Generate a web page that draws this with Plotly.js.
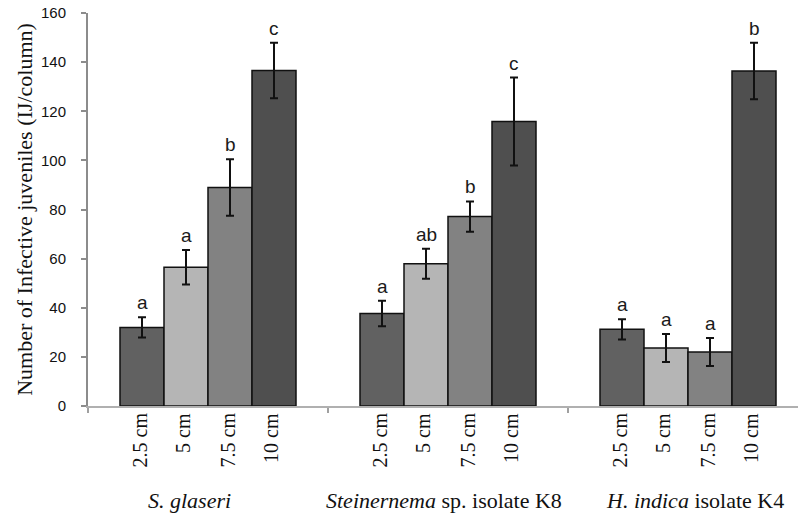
<!DOCTYPE html>
<html>
<head>
<meta charset="utf-8">
<script src="https://cdn.plot.ly/plotly-3.0.1.min.js"></script>
<style>
  html, body { margin: 0; padding: 0; background: #fff; }
  #chart { width: 798px; height: 516px; }
</style>
</head>
<body>
<div id="chart"></div>
<script>
// ---- data ----
const groups = ["S. glaseri", "Steinernema sp. isolate K8", "H. indica isolate K4"];
const groupLabels = ["<i>S. glaseri</i>", "<i>Steinernema</i> sp. isolate K8", "<i>H. indica</i> isolate K4"];
const depths = ["2.5 cm", "5 cm", "7.5 cm", "10 cm"];
// values[depth][group]
const mean_2_5 = [32, 37.7, 31.2];
const mean_5   = [56.5, 57.9, 23.6];
const mean_7_5 = [89.0, 77.1, 22.0];
const mean_10  = [136.6, 115.8, 136.4];
const se_2_5 = [4.1, 5.2, 4.1];
const se_5   = [7.0, 6.1, 5.7];
const se_7_5 = [11.5, 6.2, 5.7];
const se_10  = [11.3, 17.9, 11.5];
const let_2_5 = ["a", "a", "a"];
const let_5   = ["a", "ab", "a"];
const let_7_5 = ["b", "b", "a"];
const let_10  = ["c", "c", "b"];

const means = [mean_2_5, mean_5, mean_7_5, mean_10];
const errs = [se_2_5, se_5, se_7_5, se_10];
const letters = [let_2_5, let_5, let_7_5, let_10];

// ---- style ----
const colors = ["#616161", "#b5b5b5", "#828282", "#4f4f4f"];
const bargap = 0.2667;
const serif = "Liberation Serif, Times New Roman, serif";
const sans = "Liberation Sans, Arial, sans-serif";
const groupLabelShift = [-19, -4, 7];

const traces = depths.map((d, j) => ({
  type: "bar",
  name: d,
  x: groups,
  y: means[j],
  marker: { color: colors[j], line: { color: "#111", width: 1.5 } },
  error_y: { type: "data", array: errs[j], visible: true, color: "#111", thickness: 2, width: 4 },
  hoverinfo: "x+y+name"
}));

const annotations = [];
const slot = (1 - bargap) / depths.length;
depths.forEach((d, j) => {
  groups.forEach((g, i) => {
    const xpos = i + (j - (depths.length - 1) / 2) * slot;
    // significance letter
    annotations.push({
      x: xpos, y: means[j][i] + errs[j][i], xref: "x", yref: "y",
      text: letters[j][i], showarrow: false, yanchor: "bottom", yshift: 2,
      font: { family: sans, size: 19, color: "#1a1a1a" }
    });
    // depth label (rotated)
    annotations.push({
      x: xpos, y: 0, xref: "x", yref: "paper",
      text: d, showarrow: false, textangle: -90,
      xanchor: "center", yanchor: "top", yshift: -5, xshift: -3,
      font: { family: serif, size: 20, color: "#111" }
    });
  });
});
groups.forEach((g, i) => {
  annotations.push({
    x: i, y: 0, xref: "x", yref: "paper",
    text: groupLabels[i], showarrow: false,
    xanchor: "center", yanchor: "middle", yshift: -94, xshift: groupLabelShift[i],
    font: { family: serif, size: 22, color: "#111" }
  });
});

const layout = {
  width: 798, height: 516,
  margin: { l: 88, r: 0, t: 13, b: 110, pad: 0 },
  paper_bgcolor: "#fff", plot_bgcolor: "#fff",
  showlegend: false,
  barmode: "group", bargap: bargap, bargroupgap: 0,
  xaxis: {
    type: "category",
    range: [-0.5, 2.5 - 10 / 240],
    showticklabels: false,
    ticks: "outside", tickson: "boundaries", ticklen: 5, tickcolor: "#a0a0a0", tickwidth: 1.5,
    showline: true, linecolor: "#b0b0b0", linewidth: 1.5,
    showgrid: false, zeroline: false, fixedrange: true
  },
  yaxis: {
    range: [0, 160], dtick: 20, tick0: 0,
    ticks: "outside", ticklen: 5, tickcolor: "#8c8c8c", tickwidth: 2,
    ticklabelstandoff: 12,
    showline: true, linecolor: "#8c8c8c", linewidth: 2,
    showgrid: false, zeroline: false, fixedrange: true,
    tickfont: { family: sans, size: 15, color: "#111" },
    title: { text: "Number of Infective juveniles (IJ/column)", font: { family: serif, size: 22, color: "#111" }, standoff: 2 }
  },
  annotations: annotations
};

Plotly.newPlot("chart", traces, layout, { displayModeBar: false, staticPlot: true });
</script>
</body>
</html>
